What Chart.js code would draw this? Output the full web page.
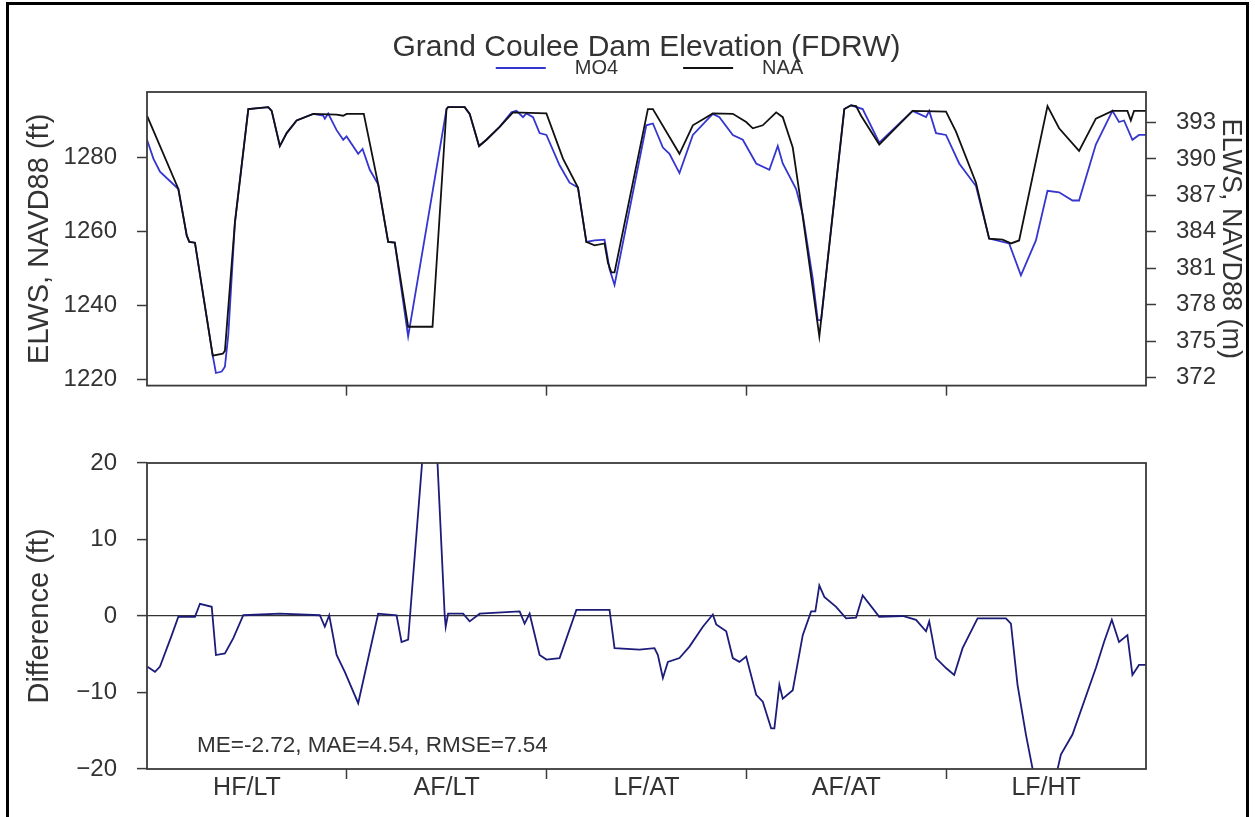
<!DOCTYPE html>
<html>
<head>
<meta charset="utf-8">
<title>Grand Coulee Dam Elevation (FDRW)</title>
<script src="https://cdn.jsdelivr.net/npm/chart.js@4.4.0/dist/chart.umd.min.js"></script>
<style>
    html, body { margin: 0; padding: 0; background: #fff; }
    #page { position: relative; width: 1255px; height: 817px; overflow: hidden; }
    #edge { position: absolute; left: 6px; top: 2px; width: 1237px; height: 840px; border: 3px solid #000; }
    canvas { position: absolute; left: 0; }
    #chart-elevation { top: 0; }
    #chart-difference { top: 420px; }
</style>
</head>
<body>
<div id="page">
    <div id="edge"></div>
    <canvas id="chart-elevation" width="1255" height="420"></canvas>
    <canvas id="chart-difference" width="1255" height="397"></canvas>
</div>
<script>
// 5 simulated years, one per climate scenario
const scenarios = ['HF/LT', 'AF/LT', 'LF/AT', 'AF/AT', 'LF/HT'];

const elevTicksFt = [1220, 1240, 1260, 1280];
const elevTicksM = [372, 375, 378, 381, 384, 387, 390, 393];
const diffTicks = [-20, -10, 0, 10, 20];

// x in years from start of run
const naaYears = [0, 0.157, 0.199, 0.212, 0.24, 0.329, 0.379, 0.39, 0.44, 0.507, 0.607, 0.624, 0.665, 0.699, 0.749, 0.832, 0.949, 0.982, 0.999, 1.085,
    1.157, 1.207, 1.24, 1.307, 1.429, 1.499, 1.507, 1.59, 1.615, 1.662, 1.699, 1.765, 1.832, 1.999, 2.082, 2.157, 2.199, 2.24, 2.29, 2.307,
    2.324, 2.34, 2.507, 2.532, 2.665, 2.732, 2.832, 2.932, 2.999, 3.032, 3.082, 3.149, 3.182, 3.232, 3.265, 3.332, 3.365, 3.49, 3.524, 3.549,
    3.574, 3.665, 3.832, 3.999, 4.049, 4.149, 4.215, 4.282, 4.324, 4.365, 4.507, 4.565, 4.665, 4.749, 4.832, 4.907, 4.924, 4.94, 5.0];
const naaFt = [1291.2, 1271.4, 1258.8, 1257.1, 1256.9, 1226.4, 1226.9, 1227.7, 1262.3, 1293.0, 1293.5, 1292.5, 1283.0, 1286.5, 1289.9, 1291.7, 1291.5, 1291.2, 1291.7, 1291.7,
    1272.7, 1257.1, 1256.9, 1234.2, 1234.2, 1293.0, 1293.5, 1293.5, 1291.7, 1283.0, 1284.7, 1288.2, 1292.1, 1291.8, 1279.6, 1271.8, 1257.1, 1256.2, 1256.7, 1251.5,
    1248.9, 1248.9, 1293.0, 1293.0, 1280.9, 1288.6, 1291.8, 1291.7, 1289.5, 1287.8, 1288.6, 1292.1, 1290.8, 1282.6, 1270.5, 1244.6, 1231.6, 1293.0, 1294.0, 1293.8,
    1291.2, 1283.4, 1292.5, 1292.3, 1286.9, 1273.1, 1258.0, 1257.7, 1256.7, 1257.5, 1293.8, 1287.8, 1281.7, 1290.4, 1292.5, 1292.5, 1289.9, 1292.5, 1292.5];

const mo4Years = [0, 0.032, 0.065, 0.157, 0.199, 0.212, 0.24, 0.329, 0.345, 0.374, 0.39, 0.407, 0.44, 0.507, 0.607, 0.624, 0.665, 0.699, 0.749, 0.832,
    0.882, 0.89, 0.907, 0.949, 0.982, 0.999, 1.057, 1.079, 1.115, 1.157, 1.207, 1.24, 1.307, 1.499, 1.507, 1.59, 1.615, 1.662, 1.699, 1.765,
    1.824, 1.849, 1.882, 1.899, 1.932, 1.965, 1.999, 2.065, 2.115, 2.157, 2.199, 2.24, 2.29, 2.315, 2.34, 2.499, 2.532, 2.582, 2.615, 2.665,
    2.732, 2.832, 2.865, 2.932, 2.982, 3.049, 3.115, 3.157, 3.182, 3.249, 3.282, 3.332, 3.357, 3.374, 3.407, 3.49, 3.524, 3.582, 3.665, 3.832,
    3.899, 3.915, 3.949, 3.999, 4.065, 4.149, 4.215, 4.315, 4.374, 4.449, 4.507, 4.565, 4.632, 4.665, 4.749, 4.832, 4.865, 4.89, 4.932, 4.965, 5.0];
const mo4Ft = [1284.7, 1279.6, 1276.1, 1271.4, 1258.8, 1257.1, 1256.9, 1226.4, 1221.7, 1222.1, 1223.4, 1232.1, 1262.3, 1293.0, 1293.5, 1292.5, 1283.0, 1286.5, 1289.9, 1291.7,
    1291.2, 1290.4, 1291.8, 1287.3, 1284.7, 1285.6, 1280.9, 1282.2, 1276.6, 1272.7, 1257.1, 1256.9, 1231.6, 1293.0, 1293.5, 1293.5, 1291.7, 1283.0, 1284.7, 1288.2,
    1292.1, 1292.5, 1290.8, 1291.8, 1290.8, 1286.5, 1286.0, 1277.8, 1273.1, 1271.8, 1257.1, 1257.5, 1257.7, 1249.8, 1245.5, 1288.6, 1289.1, 1282.6, 1280.9, 1275.7,
    1286.0, 1291.7, 1290.8, 1286.0, 1284.7, 1278.3, 1276.6, 1283.0, 1278.3, 1271.4, 1264.5, 1247.2, 1236.0, 1236.0, 1252.4, 1293.0, 1294.0, 1293.0, 1283.9, 1292.5,
    1290.8, 1292.5, 1286.5, 1286.0, 1278.3, 1272.2, 1258.0, 1256.7, 1248.1, 1257.5, 1270.9, 1270.5, 1268.3, 1268.3, 1283.4, 1292.5, 1289.5, 1289.9, 1284.7, 1286.0, 1286.0];

// MO4 minus NAA, goes off the axis at the AF/LT spike and the LF/HT dip
const diffYears = [0, 0.04, 0.065, 0.124, 0.157, 0.24, 0.265, 0.324, 0.345, 0.39, 0.432, 0.482, 0.665, 0.865, 0.89, 0.912, 0.949, 0.99, 1.057, 1.157,
    1.249, 1.274, 1.307, 1.425, 1.49, 1.495, 1.507, 1.582, 1.615, 1.665, 1.865, 1.89, 1.915, 1.965, 1.999, 2.065, 2.149, 2.315, 2.34, 2.465,
    2.54, 2.557, 2.582, 2.607, 2.665, 2.715, 2.782, 2.832, 2.849, 2.899, 2.932, 2.965, 2.999, 3.049, 3.082, 3.124, 3.14, 3.165, 3.182, 3.232,
    3.282, 3.324, 3.345, 3.365, 3.39, 3.449, 3.499, 3.549, 3.582, 3.665, 3.782, 3.849, 3.899, 3.915, 3.949, 3.999, 4.04, 4.082, 4.157, 4.299,
    4.324, 4.357, 4.399, 4.44, 4.49, 4.549, 4.574, 4.632, 4.749, 4.79, 4.829, 4.865, 4.907, 4.932, 4.965, 5.0];
const diffFt = [-6.6, -7.3, -6.6, -2.5, -0.1, -0.1, 1.6, 1.2, -5.1, -4.9, -2.9, 0.1, 0.3, 0.1, -1.4, 0.1, -5.1, -7.3, -11.4, 0.3,
    0.1, -3.4, -3.1, 36, 0.1, -1.4, 0.3, 0.3, -0.7, 0.3, 0.6, -1.0, 0.3, -5.1, -5.7, -5.5, 0.8, 0.8, -4.2, -4.4,
    -4.2, -5.1, -8.1, -6.0, -5.5, -4.0, -1.4, 0.2, -1.1, -2.0, -5.5, -6.0, -5.3, -10.3, -11.2, -14.7, -14.7, -9.0, -10.8, -9.7,
    -2.5, 0.6, 0.6, 4.0, 2.5, 1.2, -0.3, -0.2, 2.7, -0.1, 0, -0.5, -2.0, -0.7, -5.5, -6.8, -7.7, -4.2, -0.3, -0.3,
    -1.0, -9.0, -15.5, -21, -26, -21, -18.1, -15.5, -6.8, -3.4, -0.5, -3.4, -2.5, -7.7, -6.4, -6.4];

const statsText = 'ME=-2.72, MAE=4.54, RMSE=7.54';

const FT_PER_M = 3.28084;
const FT_MIN = 1218.3;
const FT_MAX = 1297.6;

const TEXT = '#333333';
const AXIS = '#3a3a3a';
const FONT = "'Liberation Sans', Arial, sans-serif";

Chart.defaults.font.family = FONT;
Chart.defaults.color = TEXT;

function toPoints(xs, ys) {
    return xs.map((x, i) => ({x: x, y: ys[i]}));
}

function fixedTicks(values) {
    return (scale) => {
        scale.ticks = values.map(v => ({value: v}));
    };
}

// label at the middle of each year, tick mark at each year boundary
function yearAxis(showLabels, height) {
    let marks = [];
    scenarios.forEach((s, i) => {
        marks.push(i + 0.5);
        if (i < scenarios.length - 1) marks.push(i + 1);
    });
    return {
        type: 'linear',
        min: 0,
        max: scenarios.length,
        afterBuildTicks: fixedTicks(marks),
        afterFit: (scale) => { scale.height = height; },
        border: { display: false },
        grid: {
            drawOnChartArea: false,
            tickLength: 10,
            tickWidth: 1.5,
            tickColor: (c) => Number.isInteger(c.tick.value) ? AXIS : 'rgba(0,0,0,0)',
        },
        ticks: {
            display: showLabels,
            autoSkip: false,
            maxRotation: 0,
            padding: -6,
            font: { size: 25 },
            callback: (v) => Number.isInteger(v) ? '' : scenarios[Math.floor(v)],
        },
    };
}

function valueAxis(position, min, max, ticks, width, title, titleSize, titlePad) {
    return {
        type: 'linear',
        position: position,
        min: min,
        max: max,
        afterBuildTicks: fixedTicks(ticks),
        afterFit: (scale) => { scale.width = width; },
        border: { display: false },
        grid: {
            drawOnChartArea: false,
            tickLength: 10,
            tickWidth: 1.5,
            tickColor: AXIS,
        },
        ticks: {
            padding: 20,
            font: { size: 24 },
            callback: (v) => String(v).replace('-', '\u2212'),
        },
        title: {
            display: true,
            text: title,
            font: { size: titleSize },
            padding: { top: titlePad, bottom: 0 },
        },
    };
}

const framePlugin = {
    id: 'frame',
    afterDatasetsDraw(chart) {
        const {ctx, chartArea} = chart;
        ctx.save();
        ctx.strokeStyle = AXIS;
        ctx.lineWidth = 1.8;
        ctx.strokeRect(chartArea.left, chartArea.top, chartArea.right - chartArea.left, chartArea.bottom - chartArea.top);
        ctx.restore();
    },
};

const lineLegendPlugin = {
    id: 'lineLegend',
    afterDraw(chart) {
        const {ctx, chartArea} = chart;
        const sample = 50, toText = 29, between = 65, y = 68;
        ctx.save();
        ctx.font = '20px ' + FONT;
        ctx.textBaseline = 'middle';
        const items = chart.data.datasets.map(ds => ({
            label: ds.label, color: ds.borderColor, w: ctx.measureText(ds.label).width,
        }));
        let total = items.reduce((sum, it) => sum + sample + toText + it.w, 0) + between * (items.length - 1);
        let x = (chartArea.left + chartArea.right) / 2 - total / 2 + 3;
        items.forEach(it => {
            ctx.strokeStyle = it.color;
            ctx.lineWidth = 2;
            ctx.beginPath();
            ctx.moveTo(x, y);
            ctx.lineTo(x + sample, y);
            ctx.stroke();
            ctx.fillStyle = TEXT;
            ctx.fillText(it.label, x + sample + toText, y);
            x += sample + toText + it.w + between;
        });
        ctx.restore();
    },
};

const statsPlugin = {
    id: 'stats',
    afterDraw(chart) {
        const {ctx, chartArea} = chart;
        ctx.save();
        ctx.font = '22.5px ' + FONT;
        ctx.fillStyle = TEXT;
        ctx.textBaseline = 'middle';
        ctx.fillText(statsText, chartArea.left + 50, chartArea.bottom - 23);
        ctx.restore();
    },
};

new Chart(document.getElementById('chart-elevation'), {
    type: 'line',
    data: {
        datasets: [{
            label: 'MO4',
            data: toPoints(mo4Years, mo4Ft),
            borderColor: '#3535d0',
            borderWidth: 1.8,
            pointRadius: 0,
            order: 1,
        }, {
            label: 'NAA',
            data: toPoints(naaYears, naaFt),
            borderColor: '#111111',
            borderWidth: 1.8,
            pointRadius: 0,
            order: 0,
        }],
    },
    options: {
        responsive: false,
        animation: false,
        devicePixelRatio: 1,
        layout: { padding: 0 },
        plugins: {
            legend: { display: false },
            tooltip: { enabled: false },
            title: {
                display: true,
                fullSize: false,
                text: 'Grand Coulee Dam Elevation (FDRW)',
                color: TEXT,
                font: { size: 30, weight: 'normal' },
                padding: { top: 30, bottom: 26 },
            },
        },
        scales: {
            x: yearAxis(false, 22),
            y: valueAxis('left', FT_MIN, FT_MAX, elevTicksFt, 147, 'ELWS, NAVD88 (ft)', 29, 23),
            yM: valueAxis('right', FT_MIN / FT_PER_M, FT_MAX / FT_PER_M, elevTicksM, 109, 'ELWS, NAVD88 (m)', 27, 8),
        },
    },
    plugins: [framePlugin, lineLegendPlugin],
});

let diffAxis = valueAxis('left', -20, 20, diffTicks, 147, 'Difference (ft)', 29, 23);
diffAxis.grid.drawOnChartArea = true;
diffAxis.grid.color = (c) => c.tick && c.tick.value === 0 ? '#333333' : 'rgba(0,0,0,0)';
diffAxis.grid.lineWidth = 1.2;

new Chart(document.getElementById('chart-difference'), {
    type: 'line',
    data: {
        datasets: [{
            label: 'MO4 - NAA',
            data: toPoints(diffYears, diffFt),
            borderColor: '#1c1c7a',
            borderWidth: 1.8,
            pointRadius: 0,
        }],
    },
    options: {
        responsive: false,
        animation: false,
        devicePixelRatio: 1,
        layout: { padding: { top: 43, right: 109 } },
        plugins: {
            legend: { display: false },
            tooltip: { enabled: false },
        },
        scales: {
            x: yearAxis(true, 48),
            y: diffAxis,
        },
    },
    plugins: [framePlugin, statsPlugin],
});
</script>
</body>
</html>
